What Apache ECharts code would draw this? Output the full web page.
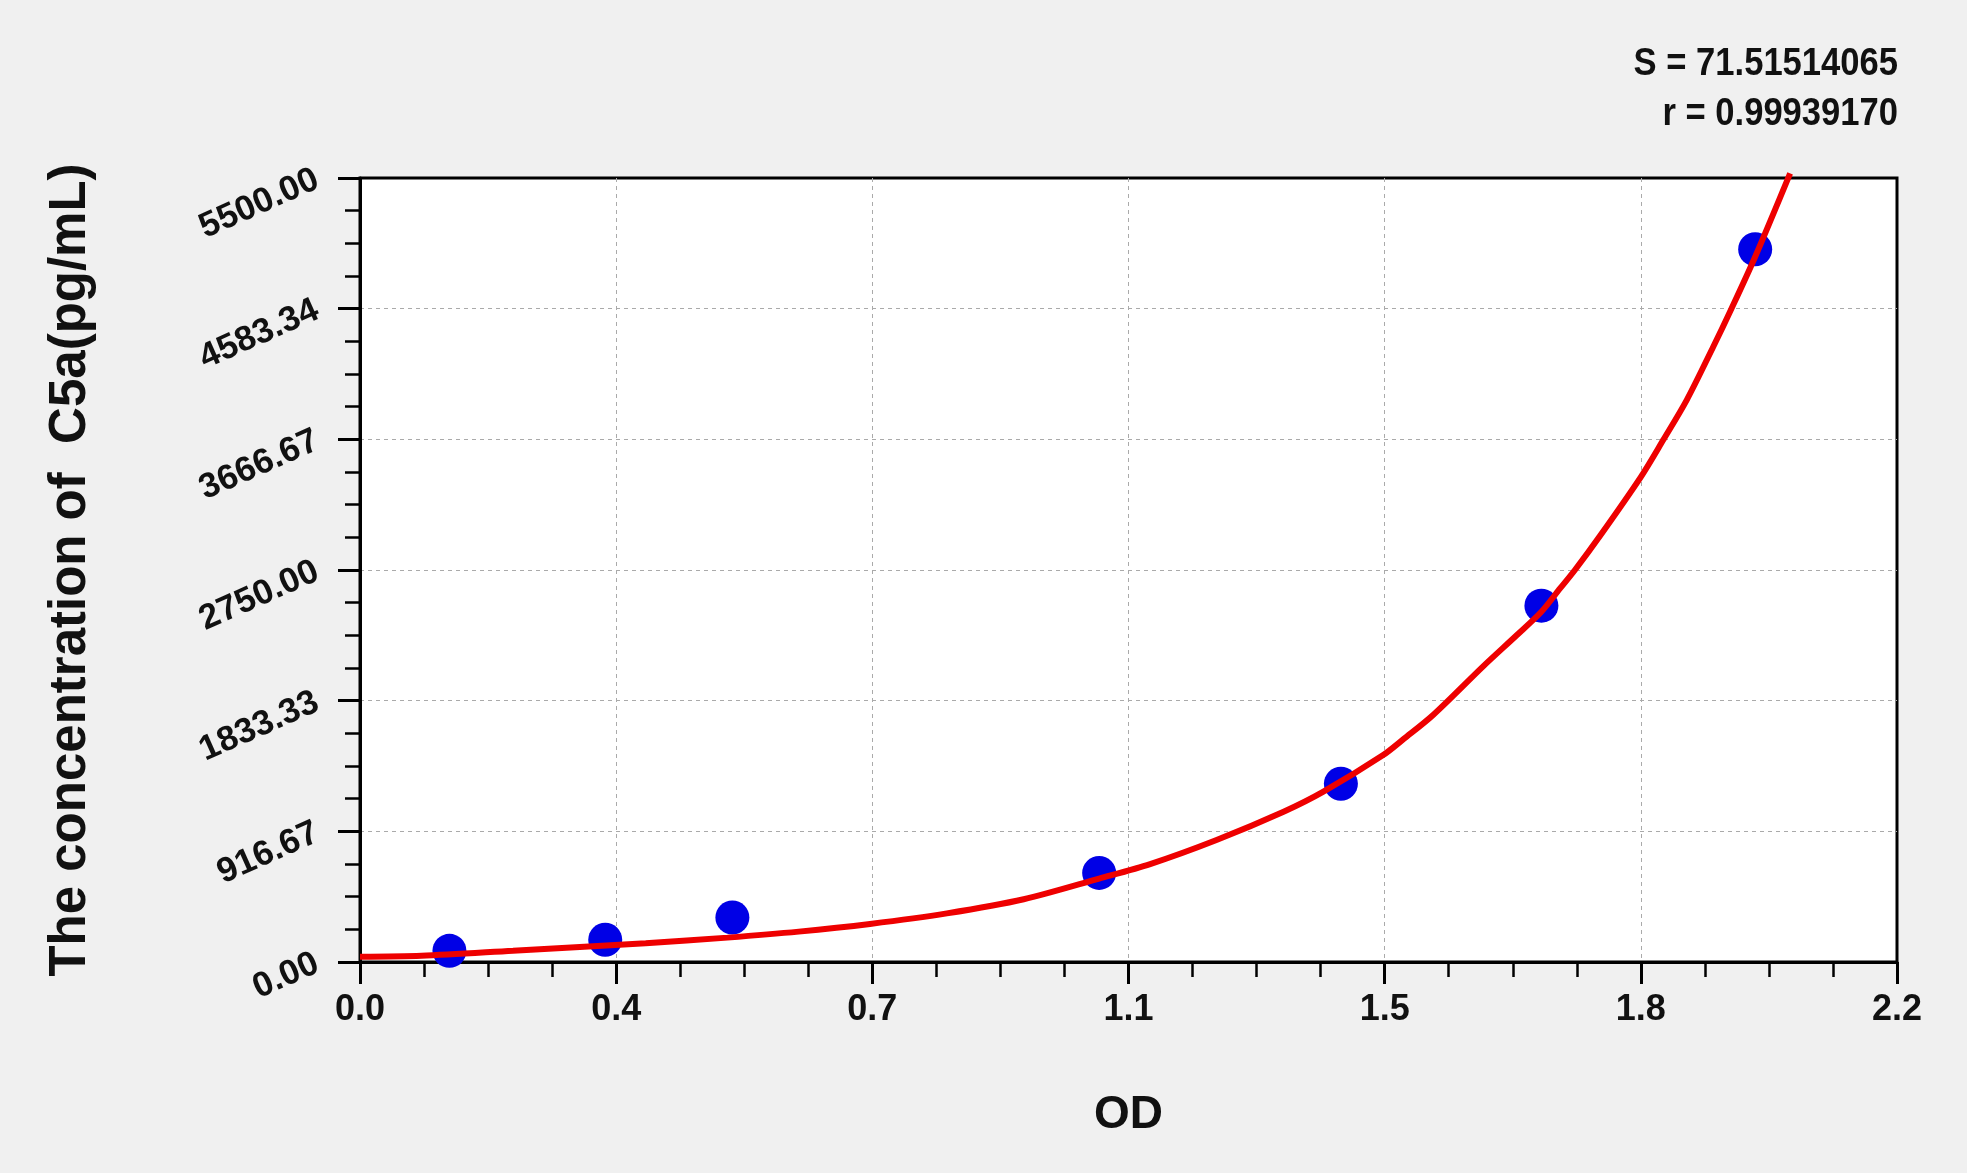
<!DOCTYPE html>
<html lang="en">
<head>
    <meta charset="UTF-8">
    <title>C5a standard curve</title>
    <style>
        html, body { margin: 0; padding: 0; background: #f0f0f0; }
        #main { width: 1967px; height: 1173px; }
    </style>
</head>
<body>
    <div id="main"></div>
    <script src="https://cdn.jsdelivr.net/npm/echarts@6/dist/echarts.min.js"></script>
    <script>
        // standard points (OD, concentration)
        var stdOD = [0.128, 0.351, 0.533, 1.058, 1.404, 1.691, 1.997];
        var stdConc = [78.13, 156.25, 312.5, 625, 1250, 2500, 5000];

        // fitted curve
        var fitOD = [0, 0.088, 0.219, 0.321, 0.409, 0.526, 0.628, 0.730, 0.840, 0.950,
            1.058, 1.131, 1.226, 1.322, 1.379, 1.464, 1.494, 1.536, 1.608, 1.656,
            1.691, 1.718, 1.739, 1.775, 1.833, 1.866, 1.899, 1.937, 1.963, 1.997, 2.047];
        var fitConc = [37, 44, 79, 107, 131, 171, 213, 267, 341, 440,
            585, 687, 856, 1054, 1195, 1450, 1565, 1733, 2076, 2294,
            2457, 2622, 2750, 2990, 3400, 3667, 3942, 4316, 4583, 4948, 5533];

        // tick labels
        var xTickLabels = ['0.0', '0.4', '0.7', '1.1', '1.5', '1.8', '2.2'];
        var yTickLabels = ['0.00', '916.67', '1833.33', '2750.00', '3666.67', '4583.34', '5500.00'];

        var xMax = 2.2, yMax = 5500;
        var xStep = xMax / 6, yStep = yMax / 6;

        var scatterData = stdOD.map(function (v, i) { return [v, stdConc[i]]; });
        var fitData = fitOD.map(function (v, i) { return [v, fitConc[i]]; });

        var myChart = echarts.init(document.getElementById('main'));
        var option = {
            backgroundColor: '#f0f0f0',
            animation: false,
            grid: {
                left: 360,
                right: 70,
                top: 178,
                bottom: 211,
                show: true,
                backgroundColor: '#fff',
                borderColor: '#000',
                borderWidth: 3
            },
            graphic: [{
                type: 'text',
                x: 1898,
                y: 40,
                scaleX: 0.91,
                style: {
                    text: 'S = 71.51514065\nr = 0.99939170',
                    font: 'bold 38px "Liberation Sans", Arial',
                    fill: '#111',
                    align: 'right',
                    lineHeight: 50
                }
            }],
            xAxis: {
                type: 'value',
                min: 0,
                max: xMax,
                interval: xStep,
                name: 'OD',
                nameLocation: 'middle',
                nameGap: 130,
                nameTextStyle: {
                    fontFamily: 'Liberation Sans',
                    fontWeight: 'bold',
                    fontSize: 46,
                    color: '#111'
                },
                axisLine: { lineStyle: { color: '#000', width: 3 } },
                axisTick: { length: 22, lineStyle: { color: '#000', width: 3 } },
                minorTick: { show: true, splitNumber: 4, length: 15, lineStyle: { color: '#000', width: 2.5 } },
                axisLabel: {
                    margin: 30,
                    fontFamily: 'Liberation Sans',
                    fontWeight: 'bold',
                    fontSize: 36,
                    color: '#111',
                    formatter: function (v) { return xTickLabels[Math.round(v / xStep)]; }
                },
                splitLine: {
                    show: true,
                    showMinLine: false,
                    showMaxLine: false,
                    lineStyle: { color: '#aaa', width: 1, type: [4, 4] }
                }
            },
            yAxis: {
                type: 'value',
                min: 0,
                max: yMax,
                interval: yStep,
                name: 'The concentration of  C5a(pg/mL)',
                nameLocation: 'middle',
                nameRotate: 90,
                nameGap: 264,
                nameTextStyle: {
                    fontFamily: 'Liberation Sans',
                    fontWeight: 'bold',
                    fontSize: 51,
                    color: '#111'
                },
                axisLine: { show: true, lineStyle: { color: '#000', width: 3 } },
                axisTick: { show: true, length: 22, lineStyle: { color: '#000', width: 3 } },
                minorTick: { show: true, splitNumber: 4, length: 15, lineStyle: { color: '#000', width: 2.5 } },
                axisLabel: {
                    margin: 43,
                    rotate: 24,
                    fontFamily: 'Liberation Sans',
                    fontWeight: 'bold',
                    fontSize: 35,
                    color: '#111',
                    formatter: function (v) { return yTickLabels[Math.round(v / yStep)]; }
                },
                splitLine: {
                    show: true,
                    showMinLine: false,
                    showMaxLine: false,
                    lineStyle: { color: '#aaa', width: 1, type: [4, 4] }
                }
            },
            series: [
                {
                    type: 'scatter',
                    data: scatterData,
                    symbolSize: 34,
                    itemStyle: { color: '#0000e6', opacity: 1 },
                    z: 2
                },
                {
                    type: 'line',
                    data: fitData,
                    showSymbol: false,
                    smooth: 0.3,
                    clip: false,
                    lineStyle: { color: '#ee0000', width: 6 },
                    z: 3
                }
            ]
        };
        myChart.setOption(option);
    </script>
</body>
</html>
